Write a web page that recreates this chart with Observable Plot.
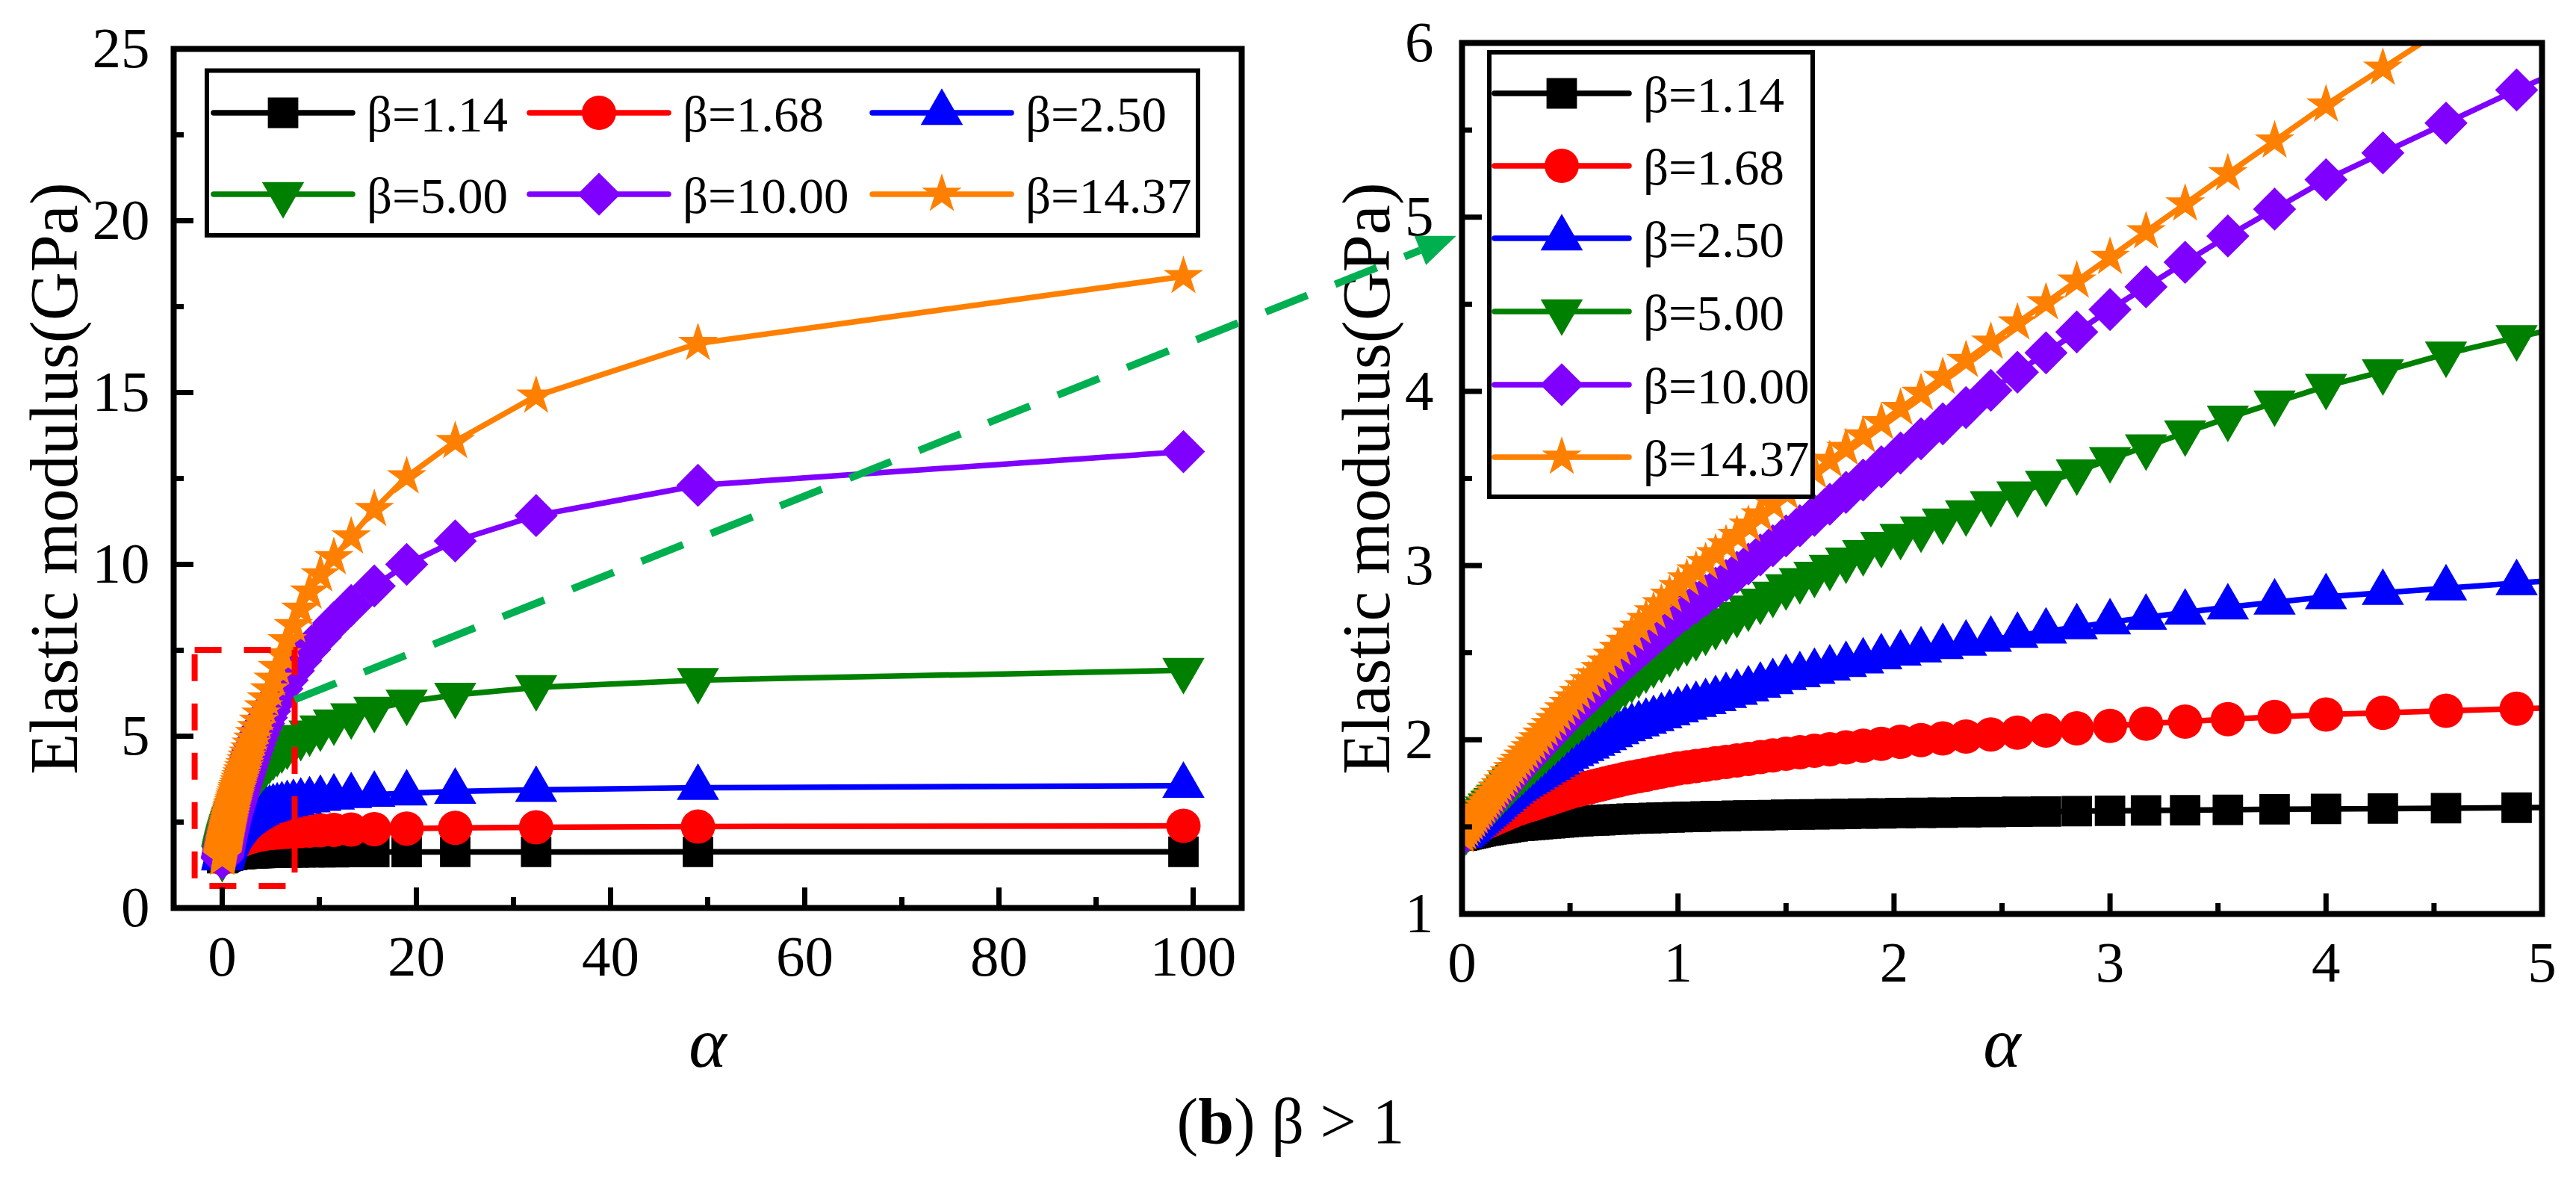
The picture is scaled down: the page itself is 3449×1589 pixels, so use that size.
<!DOCTYPE html>
<html>
<head>
<meta charset="utf-8">
<script src="https://cdn.jsdelivr.net/npm/d3@7"></script>
<script src="https://cdn.jsdelivr.net/npm/@observablehq/plot@0.6"></script>
<style>
  html, body { margin: 0; padding: 0; background: #fff; }
  #page { position: relative; width: 3449px; height: 1589px; background: #fff; overflow: hidden;
          font-family: "Liberation Serif", "Times New Roman", serif; }
  #page svg { position: absolute; top: 0; }
</style>
</head>
<body>
<div id="page"></div>
<script>
// Volume-ratio parameter alpha (x values shared by every curve)
const ALPHA = [0, 0.0101, 0.0204, 0.0309, 0.0417, 0.0526, 0.0638, 0.0753, 0.0870, 0.0989,
  0.1111, 0.1236, 0.1364, 0.1494, 0.1628, 0.1765, 0.1905, 0.2048, 0.2195, 0.2346,
  0.2500, 0.2658, 0.2821, 0.2987, 0.3158, 0.3333, 0.3514, 0.3699, 0.3889, 0.4085,
  0.4286, 0.4493, 0.4706, 0.4925, 0.5152, 0.5385, 0.5625, 0.5873, 0.6129, 0.6393,
  0.6667, 0.6949, 0.7241, 0.7544, 0.7857, 0.8182, 0.8519, 0.8868, 0.9231, 0.9608,
  1.0000, 1.0408, 1.0833, 1.1277, 1.1739, 1.2222, 1.2727, 1.3256, 1.3810, 1.4390,
  1.5000, 1.5641, 1.6316, 1.7027, 1.7778, 1.8571, 1.9412, 2.0303, 2.1250, 2.2258,
  2.3333, 2.4483, 2.5714, 2.7037, 2.8462, 3.0000, 3.1667, 3.3478, 3.5455, 3.7619,
  4.0000, 4.2632, 4.5556, 4.8824, 5.2500, 5.6667, 6.1429, 6.6923, 7.3333, 8.0909,
  9.0000, 10.1111, 11.5000, 13.2857, 15.6667, 19.0000, 24.0000, 32.3333, 49.0000, 99.0000];

// Elastic modulus (GPa) for each beta
const E_B114 = [1.450,1.453,1.456,1.459,1.462,1.465,1.468,1.471,1.474,1.478,
  1.480,1.482,1.485,1.487,1.489,1.492,1.494,1.497,1.500,1.502,
  1.505,1.507,1.508,1.510,1.512,1.513,1.515,1.517,1.519,1.521,
  1.523,1.525,1.527,1.529,1.531,1.532,1.534,1.535,1.537,1.538,
  1.540,1.542,1.543,1.545,1.547,1.548,1.549,1.551,1.553,1.554,
  1.556,1.557,1.558,1.560,1.561,1.562,1.564,1.565,1.567,1.568,
  1.570,1.571,1.572,1.573,1.574,1.576,1.577,1.579,1.581,1.582,
  1.584,1.585,1.587,1.588,1.590,1.592,1.594,1.596,1.598,1.601,
  1.603,1.605,1.607,1.610,1.612,1.614,1.616,1.617,1.619,1.620,
  1.622,1.623,1.625,1.626,1.628,1.629,1.631,1.632,1.634,1.636];

const E_B168 = [1.450,1.457,1.464,1.472,1.479,1.487,1.495,1.503,1.511,1.519,
  1.526,1.533,1.539,1.546,1.554,1.561,1.568,1.576,1.584,1.592,
  1.600,1.606,1.613,1.620,1.626,1.633,1.641,1.648,1.656,1.663,
  1.671,1.680,1.688,1.697,1.705,1.712,1.719,1.726,1.734,1.742,
  1.750,1.759,1.767,1.776,1.784,1.791,1.799,1.808,1.817,1.826,
  1.835,1.842,1.849,1.857,1.865,1.873,1.881,1.890,1.900,1.910,
  1.920,1.928,1.937,1.946,1.956,1.966,1.977,1.988,1.998,2.008,
  2.018,2.030,2.041,2.053,2.066,2.080,2.092,2.104,2.118,2.131,
  2.145,2.155,2.166,2.178,2.188,2.198,2.208,2.218,2.228,2.238,
  2.248,2.259,2.270,2.282,2.294,2.310,2.330,2.350,2.370,2.390];

const E_B250 = [1.450,1.461,1.472,1.484,1.496,1.508,1.520,1.533,1.546,1.559,
  1.572,1.585,1.599,1.613,1.627,1.642,1.656,1.672,1.688,1.704,
  1.720,1.732,1.744,1.757,1.770,1.783,1.797,1.811,1.826,1.840,
  1.856,1.871,1.888,1.904,1.919,1.933,1.948,1.962,1.978,1.994,
  2.010,2.027,2.044,2.062,2.076,2.090,2.105,2.120,2.136,2.153,
  2.170,2.185,2.201,2.217,2.234,2.252,2.271,2.290,2.311,2.332,
  2.355,2.372,2.391,2.410,2.430,2.451,2.474,2.496,2.514,2.533,
  2.553,2.575,2.598,2.622,2.647,2.675,2.702,2.731,2.761,2.789,
  2.820,2.844,2.870,2.900,2.930,2.960,2.990,3.030,3.060,3.100,
  3.140,3.180,3.220,3.260,3.300,3.340,3.390,3.440,3.500,3.560];

const E_B500 = [1.450,1.464,1.479,1.493,1.508,1.524,1.539,1.555,1.572,1.588,
  1.604,1.621,1.637,1.654,1.672,1.689,1.708,1.726,1.745,1.765,
  1.785,1.803,1.821,1.841,1.860,1.880,1.901,1.922,1.943,1.966,
  1.988,2.012,2.036,2.061,2.085,2.108,2.131,2.156,2.181,2.206,
  2.233,2.261,2.290,2.319,2.346,2.374,2.403,2.433,2.464,2.496,
  2.530,2.559,2.588,2.619,2.652,2.685,2.721,2.758,2.797,2.837,
  2.880,2.915,2.952,2.991,3.033,3.076,3.123,3.169,3.211,3.257,
  3.305,3.357,3.413,3.474,3.539,3.610,3.683,3.763,3.848,3.935,
  4.030,4.114,4.216,4.310,4.410,4.510,4.610,4.720,4.840,4.970,
  5.100,5.250,5.420,5.600,5.790,6.000,6.200,6.420,6.630,6.920];

const E_B1000 = [1.450,1.465,1.481,1.496,1.513,1.529,1.546,1.563,1.581,1.598,
  1.616,1.635,1.653,1.672,1.692,1.712,1.733,1.754,1.775,1.797,
  1.820,1.841,1.862,1.884,1.907,1.930,1.954,1.978,2.003,2.029,
  2.056,2.083,2.111,2.140,2.168,2.195,2.223,2.251,2.281,2.312,
  2.343,2.376,2.410,2.445,2.479,2.514,2.550,2.588,2.627,2.668,
  2.710,2.748,2.787,2.827,2.870,2.914,2.961,3.009,3.061,3.114,
  3.170,3.228,3.288,3.352,3.420,3.491,3.567,3.646,3.728,3.814,
  3.907,4.006,4.110,4.221,4.341,4.470,4.600,4.741,4.892,5.046,
  5.215,5.369,5.540,5.730,5.930,6.150,6.380,6.630,6.900,7.200,
  7.520,7.880,8.300,8.800,9.370,10.000,10.680,11.420,12.300,13.280];

const E_B1437 = [1.450,1.467,1.485,1.503,1.521,1.539,1.558,1.578,1.598,1.618,
  1.638,1.658,1.678,1.699,1.721,1.742,1.765,1.788,1.811,1.835,
  1.860,1.883,1.906,1.930,1.955,1.980,2.006,2.033,2.060,2.088,
  2.117,2.147,2.178,2.209,2.241,2.272,2.305,2.339,2.374,2.409,
  2.447,2.485,2.525,2.566,2.606,2.647,2.691,2.735,2.781,2.830,
  2.880,2.924,2.970,3.018,3.068,3.120,3.174,3.232,3.291,3.354,
  3.420,3.478,3.540,3.604,3.673,3.745,3.821,3.903,3.989,4.081,
  4.178,4.283,4.393,4.509,4.634,4.770,4.917,5.076,5.250,5.438,
  5.645,5.856,6.090,6.350,6.660,7.000,7.370,7.780,8.220,8.700,
  9.200,9.700,10.200,10.800,11.600,12.550,13.580,14.900,16.430,18.380];

const LABELS = ["β=1.14", "β=1.68", "β=2.50", "β=5.00", "β=10.00", "β=14.37"];
const COLORS = ["#000000", "#FF0000", "#0000FF", "#008000", "#8000FF", "#FF8000"];

// Tick values
const LEFT_X_MAJOR = [0, 20, 40, 60, 80, 100];
const LEFT_X_MINOR = [10, 30, 50, 70, 90];
const LEFT_Y_MAJOR = [0, 5, 10, 15, 20, 25];
const LEFT_Y_MINOR = [2.5, 7.5, 12.5, 17.5, 22.5];
const RIGHT_X_MAJOR = [0, 1, 2, 3, 4, 5];
const RIGHT_X_MINOR = [0.5, 1.5, 2.5, 3.5, 4.5];
const RIGHT_Y_MAJOR = [1, 2, 3, 4, 5, 6];
const RIGHT_Y_MINOR = [1.5, 2.5, 3.5, 4.5, 5.5];

// Zoom window outline on the overview panel (alpha, GPa) and the pointer to the detail panel
const ZOOM_BOX = [{a0: -2.8, a1: 7.5, e0: 0.63, e1: 7.5}];
const ARROW_FROM = [7.5, 6.05];    // overview panel (alpha, GPa)
const ARROW_TO = [-0.025, 4.89];   // detail panel (alpha, GPa)

// Triangle pointing down (filled marker for beta = 5.00)
const symbolTriangleDown = {
  draw(context, size) {
    const y = Math.sqrt(size / (Math.sqrt(3) * 3));
    context.moveTo(0, y * 2);
    context.lineTo(-Math.sqrt(3) * y, -y);
    context.lineTo(Math.sqrt(3) * y, -y);
    context.closePath();
  }
};
const SYMBOLS = [d3.symbolSquare, d3.symbolCircle, d3.symbolTriangle, symbolTriangleDown, d3.symbolDiamond2, d3.symbolStar];
const RADII = [23, 23, 21, 21, 26, 16.7];

const SERIES = [E_B114, E_B168, E_B250, E_B500, E_B1000, E_B1437].map((values, k) => ({
  label: LABELS[k], color: COLORS[k], symbol: SYMBOLS[k], r: RADII[k],
  rows: ALPHA.map((a, i) => ({alpha: a, E: values[i]}))
}));

const FONT = "Liberation Serif";
const TICK_FONT = 77;
const fmt = d => String(d);

function seriesMarks() {
  const marks = [];
  for (const s of SERIES) {
    marks.push(Plot.line(s.rows, {x: "alpha", y: "E", stroke: s.color, strokeWidth: 7.5, clip: true}));
    marks.push(Plot.dot(s.rows, {x: "alpha", y: "E", fill: s.color, symbol: s.symbol, r: s.r, clip: true}));
  }
  return marks;
}

function axisMarks(xMajor, xMinor, yMajor, yMinor, yPad) {
  return [
    Plot.axisX(xMinor, {tickSize: -14, fill: "none", strokeWidth: 7, label: null}),
    Plot.axisX(xMajor, {tickSize: -27, fill: "none", strokeWidth: 7, label: null}),
    Plot.axisX(xMajor, {tickSize: 0, tickPadding: 36, fontSize: TICK_FONT, tickFormat: fmt, label: null}),
    Plot.axisY(yMinor, {tickSize: -14, fill: "none", strokeWidth: 7, label: null}),
    Plot.axisY(yMajor, {tickSize: -27, fill: "none", strokeWidth: 7, label: null}),
    Plot.axisY(yMajor, {tickSize: 0, tickPadding: yPad, fontSize: TICK_FONT, tickFormat: fmt, label: null}),
    Plot.frame({stroke: "black", strokeWidth: 8})
  ];
}

function titleMarks(yTitleDx, alphaDy) {
  return [
    Plot.text(["Elastic modulus(GPa)"], {frameAnchor: "left", dx: yTitleDx, rotate: -90, textAnchor: "middle",
      lineAnchor: "middle", fontSize: 90, fill: "black"}),
    Plot.text(["α"], {frameAnchor: "bottom", dy: alphaDy, textAnchor: "middle", lineAnchor: "bottom",
      fontSize: 96, fontStyle: "italic", fill: "black"})
  ];
}

const STYLE = {fontFamily: FONT, fontSize: "77px", color: "black", background: "transparent", overflow: "visible"};

// Overview panel: alpha 0–100
const LEFT_OFFSET = 0;
const plotL = Plot.plot({
  width: 1720, height: 1460,
  marginLeft: 232, marginRight: 58, marginTop: 65, marginBottom: 245,
  x: {domain: [-5, 105], label: null},
  y: {domain: [0, 25], label: null},
  style: STYLE,
  marks: [
    ...seriesMarks(),
    Plot.rect(ZOOM_BOX, {x1: "a0", x2: "a1", y1: "e0", y2: "e1", fill: "none", stroke: "#FF0000",
      strokeWidth: 8, strokeDasharray: "36,30"}),
    ...axisMarks(LEFT_X_MAJOR, LEFT_X_MINOR, LEFT_Y_MAJOR, LEFT_Y_MINOR, 32),
    ...titleMarks(-158, 212)
  ]
});

// Detail panel: alpha 0–5
const RIGHT_OFFSET = 1750;
const plotR = Plot.plot({
  width: 1699, height: 1460,
  marginLeft: 207, marginRight: 46, marginTop: 57, marginBottom: 237,
  x: {domain: [0, 5], label: null},
  y: {domain: [1, 6], label: null},
  style: STYLE,
  marks: [
    ...seriesMarks(),
    ...axisMarks(RIGHT_X_MAJOR, RIGHT_X_MINOR, RIGHT_Y_MAJOR, RIGHT_Y_MINOR, 38),
    ...titleMarks(-126, 204)
  ]
});

const page = document.getElementById("page");
plotL.style.left = LEFT_OFFSET + "px";
plotR.style.left = RIGHT_OFFSET + "px";
page.appendChild(plotL);
page.appendChild(plotR);

// Overlay: legends, pointer arrow and caption
const overlay = d3.select(page).append("svg")
  .attr("width", 3449).attr("height", 1589)
  .style("left", "0px").style("overflow", "visible")
  .attr("font-family", FONT);

function legend(box, entries) {
  const g = overlay.append("g");
  g.append("rect").attr("x", box.x).attr("y", box.y).attr("width", box.w).attr("height", box.h)
    .attr("fill", "white").attr("stroke", "black").attr("stroke-width", 6);
  for (const e of entries) {
    const s = SERIES[e.k];
    g.append("line").attr("x1", e.x).attr("x2", e.x + box.lineLen).attr("y1", e.y).attr("y2", e.y)
      .attr("stroke", s.color).attr("stroke-width", 7.5).attr("stroke-linecap", "round");
    g.append("path").attr("d", d3.symbol(s.symbol, Math.PI * s.r * s.r)())
      .attr("transform", `translate(${e.x + box.lineLen / 2},${e.y})`).attr("fill", s.color);
    g.append("text").attr("x", e.x + box.lineLen + 19).attr("y", e.y + 25)
      .attr("font-size", 67).attr("fill", "black").text(s.label);
  }
}

// Overview legend: three columns, two rows
legend({x: 277, y: 94.5, w: 1327, h: 220.5, lineLen: 186},
  [0, 1, 2, 3, 4, 5].map(k => ({k, x: [286, 709, 1168][k % 3], y: [151, 260][Math.floor(k / 3)]})));
// Detail legend: one column
legend({x: 1994, y: 70, w: 433, h: 595, lineLen: 180},
  [0, 1, 2, 3, 4, 5].map(k => ({k, x: 2001, y: [125, 222, 319, 417, 515, 612][k]})));

// Dashed pointer from the zoom window to the detail panel
const xL = plotL.scale("x"), yL = plotL.scale("y");
const xR = plotR.scale("x"), yR = plotR.scale("y");
const p0 = [LEFT_OFFSET + xL.apply(ARROW_FROM[0]), yL.apply(ARROW_FROM[1])];
const p1 = [RIGHT_OFFSET + xR.apply(ARROW_TO[0]), yR.apply(ARROW_TO[1])];
const dx = p1[0] - p0[0], dy = p1[1] - p0[1], len = Math.hypot(dx, dy);
const ux = dx / len, uy = dy / len;
const headL = 52, headW = 21;
const base = [p1[0] - ux * headL, p1[1] - uy * headL];
overlay.append("line").attr("x1", p0[0]).attr("y1", p0[1]).attr("x2", base[0]).attr("y2", base[1])
  .attr("stroke", "#00B050").attr("stroke-width", 10).attr("stroke-dasharray", "60,40");
overlay.append("path")
  .attr("d", `M${p1[0]},${p1[1]}L${base[0] - uy * headW},${base[1] + ux * headW}L${base[0] + uy * headW},${base[1] - ux * headW}Z`)
  .attr("fill", "#00B050");

// Caption
const cap = overlay.append("text").attr("x", 1728).attr("y", 1530).attr("text-anchor", "middle")
  .attr("font-size", 86).attr("fill", "black");
cap.append("tspan").text("(");
cap.append("tspan").attr("font-weight", "bold").text("b");
cap.append("tspan").text(") β > 1");
</script>
</body>
</html>
